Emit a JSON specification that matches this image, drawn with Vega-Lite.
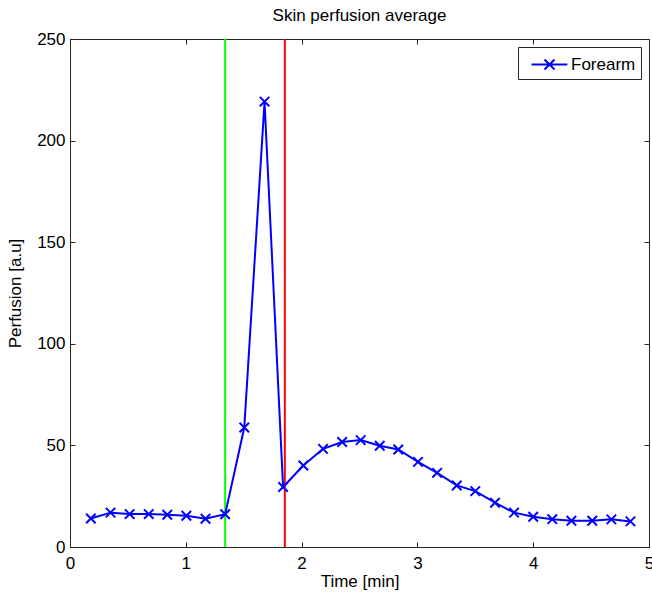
{
  "$schema": "https://vega.github.io/schema/vega-lite/v6.json",
  "width": 579,
  "height": 508,
  "autosize": "none",
  "padding": {"left": 70, "top": 39, "right": 3, "bottom": 47},
  "background": "white",
  "title": {"text": "Skin perfusion average", "font": "Liberation Sans", "fontSize": 17, "fontWeight": "normal", "color": "black", "offset": 5},
  "config": {
    "view": {"stroke": "#262626", "strokeWidth": 1},
    "axis": {"domainColor": "#262626", "tickColor": "#262626", "labelColor": "black", "titleColor": "black", "labelFont": "Liberation Sans", "titleFont": "Liberation Sans", "labelFontSize": 17, "titleFontSize": 17, "titleFontWeight": "normal", "grid": false, "tickSize": -5, "tickWidth": 1}
  },
  "datasets": {
    "perf": [
      {"t": 0.18, "v": 14.0, "s": "Forearm"},
      {"t": 0.35, "v": 16.9, "s": "Forearm"},
      {"t": 0.515, "v": 16.2, "s": "Forearm"},
      {"t": 0.68, "v": 16.2, "s": "Forearm"},
      {"t": 0.84, "v": 15.9, "s": "Forearm"},
      {"t": 1.005, "v": 15.4, "s": "Forearm"},
      {"t": 1.17, "v": 13.9, "s": "Forearm"},
      {"t": 1.34, "v": 16.1, "s": "Forearm"},
      {"t": 1.505, "v": 58.8, "s": "Forearm"},
      {"t": 1.68, "v": 219.2, "s": "Forearm"},
      {"t": 1.84, "v": 29.5, "s": "Forearm"},
      {"t": 2.015, "v": 40.1, "s": "Forearm"},
      {"t": 2.185, "v": 48.3, "s": "Forearm"},
      {"t": 2.35, "v": 51.7, "s": "Forearm"},
      {"t": 2.51, "v": 52.6, "s": "Forearm"},
      {"t": 2.675, "v": 49.8, "s": "Forearm"},
      {"t": 2.835, "v": 48.0, "s": "Forearm"},
      {"t": 3.005, "v": 41.9, "s": "Forearm"},
      {"t": 3.17, "v": 36.5, "s": "Forearm"},
      {"t": 3.34, "v": 30.3, "s": "Forearm"},
      {"t": 3.5, "v": 27.5, "s": "Forearm"},
      {"t": 3.67, "v": 21.8, "s": "Forearm"},
      {"t": 3.835, "v": 16.9, "s": "Forearm"},
      {"t": 4.0, "v": 14.9, "s": "Forearm"},
      {"t": 4.165, "v": 13.7, "s": "Forearm"},
      {"t": 4.33, "v": 12.9, "s": "Forearm"},
      {"t": 4.51, "v": 12.9, "s": "Forearm"},
      {"t": 4.675, "v": 13.6, "s": "Forearm"},
      {"t": 4.84, "v": 12.6, "s": "Forearm"}
    ],
    "marks": [
      {"t": 1.34, "c": "start"},
      {"t": 1.855, "c": "end"}
    ]
  },
  "resolve": {"axis": {"x": "independent", "y": "independent"}},
  "layer": [
    {
      "data": {"name": "marks"},
      "mark": {"type": "rule", "strokeWidth": 2},
      "encoding": {
        "x": {"field": "t", "type": "quantitative", "scale": {"domain": [0, 5], "nice": false, "zero": false},
              "axis": {"orient": "bottom", "values": [0, 1, 2, 3, 4, 5], "title": "Time [min]", "labelPadding": 13, "titleY": 26, "labelFlush": false}},
        "color": {"field": "c", "type": "nominal", "scale": {"domain": ["start", "end"], "range": ["#00ff00", "#ff0000"]}, "legend": null}
      }
    },
    {
      "data": {"name": "perf"},
      "mark": {"type": "line", "color": "#0000ff", "strokeWidth": 2},
      "encoding": {
        "x": {"field": "t", "type": "quantitative", "scale": {"domain": [0, 5], "nice": false, "zero": false},
              "axis": {"orient": "top", "values": [0, 1, 2, 3, 4, 5], "labels": false, "title": null, "domain": false}},
        "y": {"field": "v", "type": "quantitative", "scale": {"domain": [0, 250], "nice": false},
              "axis": {"orient": "left", "values": [0, 50, 100, 150, 200, 250], "title": "Perfusion [a.u]", "labelPadding": 10, "titleX": -46}}
      }
    },
    {
      "data": {"name": "perf"},
      "mark": {"type": "point", "shape": "M-1,-1L1,1M-1,1L1,-1", "filled": false, "strokeWidth": 2, "size": 90, "opacity": 1},
      "encoding": {
        "x": {"field": "t", "type": "quantitative", "scale": {"domain": [0, 5], "nice": false, "zero": false}, "axis": null},
        "y": {"field": "v", "type": "quantitative", "scale": {"domain": [0, 250], "nice": false},
              "axis": {"orient": "right", "values": [0, 50, 100, 150, 200, 250], "labels": false, "title": null, "domain": false}},
        "stroke": {"field": "s", "type": "nominal", "scale": {"range": ["#0000ff"]},
          "legend": {"title": null, "orient": "top-right", "offset": 8, "strokeColor": "#262626", "fillColor": "white", "padding": 5,
                     "symbolType": "M-1.6,0H1.6M-0.45,-0.45L0.45,0.45M-0.45,0.45L0.45,-0.45", "symbolSize": 500, "symbolStrokeWidth": 2,
                     "symbolOffset": 14, "labelOffset": 9,
                     "labelFont": "Liberation Sans", "labelFontSize": 17, "labelColor": "black", "cornerRadius": 0}}
      }
    }
  ]
}
